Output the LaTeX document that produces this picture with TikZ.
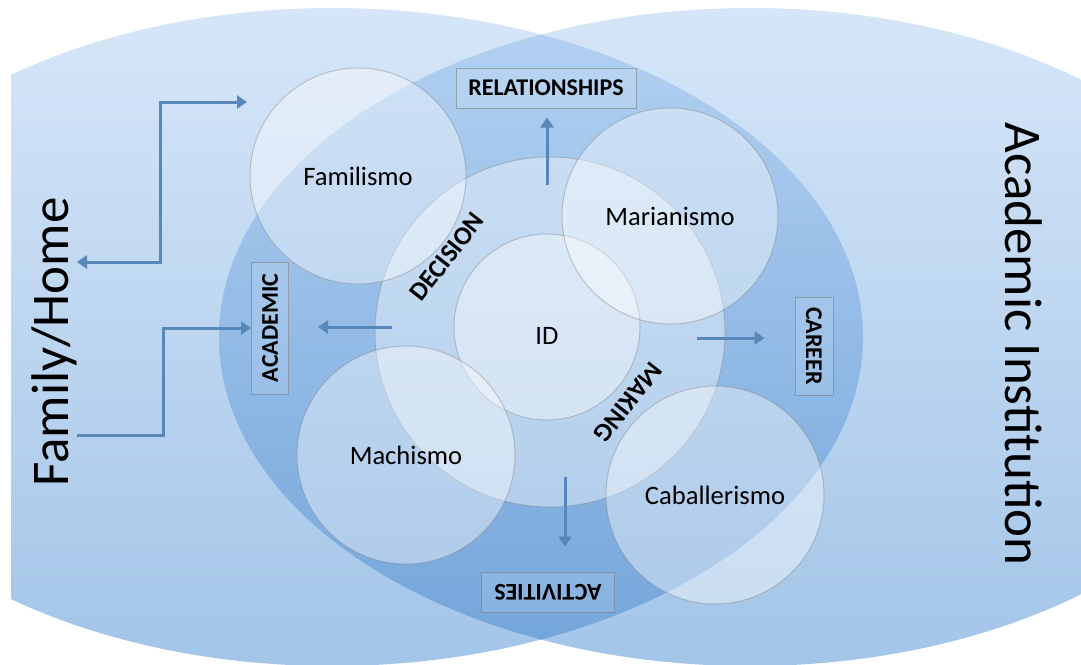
\documentclass[tikz,border=0pt]{standalone}
\usepackage{fontspec}
\setmainfont{Carlito}
\usepackage{graphicx}
\usetikzlibrary{arrows.meta}
\definecolor{outtop}{RGB}{214,230,248}
\definecolor{outbot}{RGB}{163,197,232}
\definecolor{ovtop}{RGB}{180,210,242}
\definecolor{ovbot}{RGB}{114,164,218}
\definecolor{arrowblue}{RGB}{88,135,186}

\begin{document}
\begin{tikzpicture}[x=0.5pt,y=-0.5pt,
    circ/.style={circle, draw=gray, draw opacity=0.4, line width=0.5pt, fill=white, fill opacity=0.4, text opacity=1, inner sep=0pt, font=\fontsize{13.3}{15}\selectfont},
    tag/.style={draw=gray, draw opacity=0.6, line width=0.5pt, fill=white, fill opacity=0.12, text opacity=1, inner sep=0pt, font=\bfseries\fontsize{12}{14}\selectfont},
    arc/.style={font=\bfseries\fontsize{13}{15}\selectfont},
    arr/.style={draw=arrowblue, line width=1.5pt, -{Triangle[length=5pt,width=6.5pt]}},
    big/.style={font=\fontsize{26.5}{30}\selectfont}]
    \useasboundingbox (0,0) rectangle (1081,664);
    % the two worlds and their overlap
    \begin{scope}
        \clip (11,0) rectangle (1081,664);
        \shade[top color=outtop, bottom color=outbot] (332,337) ellipse [x radius=531, y radius=329];
        \shade[top color=outtop, bottom color=outbot] (750,337) ellipse [x radius=531, y radius=329];
        \clip (332,337) ellipse [x radius=531, y radius=329];
        \shade[top color=ovtop, bottom color=ovbot] (750,337) ellipse [x radius=531, y radius=329];
    \end{scope}
    \node[big, rotate=90] (home) at (54,342) {Family/Home};
    \node[big, rotate=-90] (inst) at (1024,344) {Academic Institution};
    % circles
    \node[circ, minimum size=175pt] (dm) at (550,332) {};
    \node[circ, minimum size=93pt, text height=17pt] (id) at (547,327) {ID};
    \node[circ, minimum size=108pt] (fam) at (358,176) {Familismo};
    \node[circ, minimum size=108pt] (mar) at (670,216) {Marianismo};
    \node[circ, minimum size=109pt] (mach) at (406,455) {Machismo};
    \node[circ, minimum size=109pt] (cab) at (715,495) {Caballerismo};
    \node[arc, rotate=52] (dec) at (447,257) {DECISION};
    \node[arc, rotate=232] (mak) at (628,402) {MAKING};
    % outcome boxes
    \node[tag, minimum width=90pt, minimum height=20pt] (rel) at (546,88) {RELATIONSHIPS};
    \node[tag, minimum width=18.5pt, minimum height=66pt] (acad) at (270,328) {\rotatebox{90}{ACADEMIC}};
    \node[tag, minimum width=19pt, minimum height=49pt] (car) at (814,346) {\rotatebox{-90}{CAREER}};
    \node[tag, minimum width=66.5pt, minimum height=20pt] (act) at (548,592) {\rotatebox{180}{ACTIVITIES}};
    % arrows out of the decision circle
    \coordinate (relfoot) at (547,185);
    \coordinate (acadfoot) at (392,327);
    \coordinate (carfoot) at (697,338);
    \coordinate (actfoot) at (565,477);
    \draw[arr, shorten >=4.5pt] (relfoot) -- (relfoot |- rel.south);
    \draw[arr, shorten >=14.5pt] (acadfoot) -- (acadfoot -| acad.east);
    \draw[arr, shorten >=15pt] (carfoot) -- (carfoot -| car.west);
    \draw[arr, shorten >=12.5pt] (actfoot) -- (actfoot |- act.north);
    % family/home links
    \coordinate (homeA) at (77,262);
    \coordinate (bendA) at (160,262);
    \coordinate (famin) at (247,102);
    \coordinate (homeB) at (77,435);
    \coordinate (bendB) at (163,435);
    \draw[arr, {Triangle[length=5pt,width=6.5pt]}-{Triangle[length=5pt,width=6.5pt]}] (homeA) -- (bendA) |- (famin);
    \draw[arr] (homeB) -- (bendB) |- (acad.west);
\end{tikzpicture}
\end{document}
